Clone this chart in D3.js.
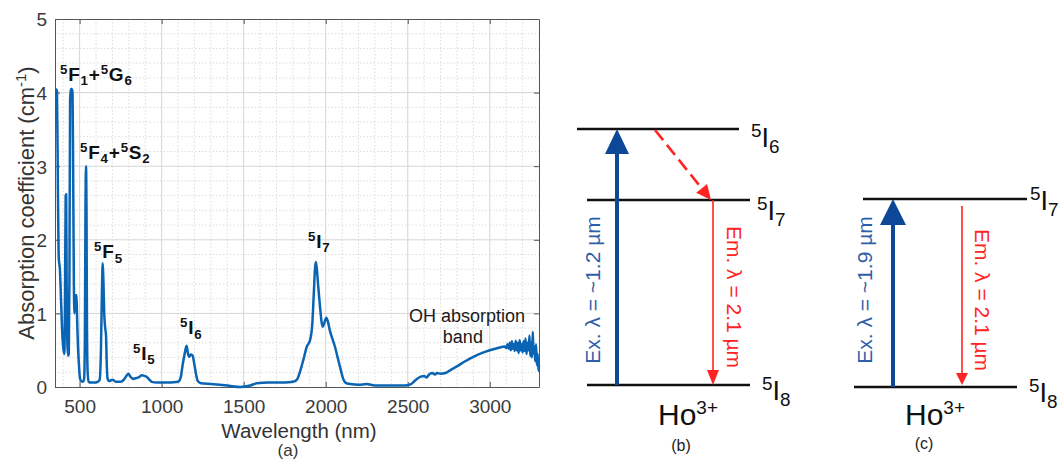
<!DOCTYPE html>
<html><head><meta charset="utf-8">
<script src="https://cdn.jsdelivr.net/npm/d3@7"></script>
<style>body{margin:0;background:#fff;} svg{display:block;font-family:Arial,"Liberation Sans",sans-serif;}</style>
</head><body><svg id="c" width="1063" height="460"></svg>
<script>
// ---------- data ----------
const wavelength = [355,362,368,373,380,388,395,402,407,411,415,418,421,425,430,434,438,442,446,452,457,461,465,469,473,477,481,485,490,496,502,510,520,527,532,536,539,542,545,549,555,570,590,610,622,630,636,641,645,650,656,661,665,670,680,700,720,750,770,785,797,810,825,840,860,880,895,908,925,940,970,1000,1050,1100,1115,1128,1140,1152,1160,1168,1178,1188,1200,1210,1220,1240,1300,1400,1480,1540,1580,1650,1750,1800,1825,1845,1865,1885,1905,1918,1928,1935,1940,1946,1955,1965,1975,1983,1993,2003,2012,2025,2040,2056,2075,2090,2105,2120,2150,2200,2250,2300,2400,2480,2520,2550,2580,2600,2615,2630,2650,2665,2680,2700,2730,2760,2800,2850,2900,2950,3000,3050,3090,3100,3108,3115,3122,3128,3135,3140,3146,3152,3158,3164,3170,3176,3182,3188,3194,3200,3206,3212,3218,3224,3230,3236,3242,3247,3252,3257,3262,3267,3272,3277,3282,3287,3292,3297,3300];
const absorption = [4.05,4.02,2.6,1.75,1.6,1.1,0.7,0.5,0.45,1.2,2.6,2.62,1.4,0.6,0.42,0.45,1.5,3.9,4.05,4.05,4.0,2.8,1.4,1.0,1.25,1.1,1.25,0.9,0.55,0.3,0.12,0.08,0.07,0.1,0.6,2.5,3.0,2.4,0.8,0.2,0.07,0.06,0.06,0.07,0.1,0.5,1.3,1.68,1.45,1.0,0.8,0.7,0.35,0.12,0.08,0.1,0.07,0.07,0.1,0.15,0.18,0.14,0.11,0.12,0.13,0.16,0.15,0.14,0.1,0.07,0.06,0.06,0.06,0.07,0.12,0.3,0.45,0.56,0.46,0.41,0.44,0.43,0.3,0.17,0.08,0.05,0.04,0.02,0.0,0.02,0.05,0.06,0.06,0.07,0.1,0.22,0.38,0.55,0.64,0.85,1.3,1.62,1.7,1.6,1.35,1.1,0.88,0.82,0.88,0.94,0.9,0.77,0.66,0.55,0.38,0.25,0.12,0.06,0.04,0.03,0.04,0.02,0.02,0.02,0.04,0.1,0.14,0.15,0.13,0.17,0.19,0.17,0.19,0.18,0.19,0.23,0.28,0.35,0.41,0.46,0.5,0.53,0.55,0.53,0.58,0.52,0.6,0.5,0.62,0.52,0.58,0.49,0.63,0.5,0.6,0.46,0.64,0.5,0.58,0.47,0.62,0.49,0.66,0.45,0.6,0.5,0.7,0.42,0.6,0.4,0.75,0.45,0.55,0.35,0.58,0.3,0.45,0.22,0.3];
const xTicks = [500,1000,1500,2000,2500,3000];
const yTicks = [0,1,2,3,4,5];
const xLabel = "Wavelength (nm)";
const yLabelMain = "Absorption coefficient (cm";
const yLabelSup = "-1";
const panelA = "(a)";
const bandNames = [
  [["sup","5"],["n","F"],["sub","1"],["n","+"],["sup","5"],["n","G"],["sub","6"]],
  [["sup","5"],["n","F"],["sub","4"],["n","+"],["sup","5"],["n","S"],["sub","2"]],
  [["sup","5"],["n","F"],["sub","5"]],
  [["sup","5"],["n","I"],["sub","5"]],
  [["sup","5"],["n","I"],["sub","6"]],
  [["sup","5"],["n","I"],["sub","7"]]
];
const bandAnchorNm = [380,502,588,825,1112,1892];
const bandAnchorVal = [4.16,3.10,1.75,0.37,0.72,1.89];
const ohText = ["OH absorption","band"];

// ---------- layout ----------
const svg = d3.select("#c");
const L = 55, R = 539, T = 19, B = 387;
const x = d3.scaleLinear().domain([350,3300]).range([L,R]);
const y = d3.scaleLinear().domain([0,5]).range([B,T]);

function rich(g, parts, px, py, size, attrs){
  const t = g.append("text").attr("x",px).attr("y",py).style("font-size",size+"px");
  for (const k in attrs) t.attr(k, attrs[k]);
  let cur = 0;
  parts.forEach(([kind, s])=>{
    const shift = kind==="sup" ? -0.38*size : kind==="sub" ? 0.24*size : 0;
    t.append("tspan").attr("dy", shift-cur).style("font-size",(kind==="n"?size:size*0.7)+"px").text(s);
    cur = shift;
  });
  return t;
}

// grid
const grid = svg.append("g");
const minorX = d3.range(400,3300,100).filter(v=>v%500!==0);
const minorY = d3.range(0.2,5,0.2).filter(v=>Math.abs(v-Math.round(v))>1e-6);
grid.selectAll(".mx").data(minorX).join("line").attr("x1",d=>x(d)).attr("x2",d=>x(d)).attr("y1",T).attr("y2",B)
  .attr("stroke","#dcdcdc").attr("stroke-width",1).attr("stroke-dasharray","1.5,2");
grid.selectAll(".my").data(minorY).join("line").attr("y1",d=>y(d)).attr("y2",d=>y(d)).attr("x1",L).attr("x2",R)
  .attr("stroke","#dcdcdc").attr("stroke-width",1).attr("stroke-dasharray","1.5,2");
grid.selectAll(".Mx").data(xTicks).join("line").attr("x1",d=>x(d)).attr("x2",d=>x(d)).attr("y1",T).attr("y2",B)
  .attr("stroke","#d6d6d6").attr("stroke-width",1);
grid.selectAll(".My").data(yTicks.slice(1,-1)).join("line").attr("y1",d=>y(d)).attr("y2",d=>y(d)).attr("x1",L).attr("x2",R)
  .attr("stroke","#d6d6d6").attr("stroke-width",1);

// axes
const axColor = "#555";
const fmt = d3.format("d");
const axB = svg.append("g").attr("transform",`translate(0,${B})`).call(d3.axisBottom(x).tickValues(xTicks).tickFormat(fmt).tickSizeInner(-5).tickSizeOuter(0).tickPadding(8));
const axT = svg.append("g").attr("transform",`translate(0,${T})`).call(d3.axisTop(x).tickValues(xTicks).tickSizeInner(-5).tickSizeOuter(0).tickFormat(""));
const axL = svg.append("g").attr("transform",`translate(${L},0)`).call(d3.axisLeft(y).tickValues(yTicks).tickFormat(fmt).tickSizeInner(-5).tickSizeOuter(0).tickPadding(8));
const axR = svg.append("g").attr("transform",`translate(${R},0)`).call(d3.axisRight(y).tickValues(yTicks).tickSizeInner(-5).tickSizeOuter(0).tickFormat(""));
[axB,axT,axL,axR].forEach(a=>{
  a.select(".domain").attr("stroke",axColor);
  a.selectAll(".tick line").attr("stroke",axColor);
  a.selectAll("text").attr("fill","#3a3a3a").style("font-size","19px").style("font-family","Arial,'Liberation Sans',sans-serif");
});
axB.selectAll("text").attr("dy","0.95em");
axL.selectAll("text").attr("dy","0.36em");

// spectrum
const pts = wavelength.map((w,i)=>[w,absorption[i]]);
svg.append("path").datum(pts)
  .attr("d", d3.line().x(d=>x(d[0])).y(d=>y(d[1])).curve(d3.curveMonotoneX))
  .attr("fill","none").attr("stroke","#0a64b4").attr("stroke-width",2.5).attr("stroke-linejoin","round");

// band labels
bandNames.forEach((parts,i)=>{
  rich(svg, parts, x(bandAnchorNm[i]), y(bandAnchorVal[i]), 19, {"font-weight":"bold","fill":"#111","letter-spacing":"0.8px"});
});
svg.append("text").attr("x",x(2507)).attr("y",y(0.88)).style("font-size","18px").attr("fill","#1a1a1a").text(ohText[0]);
svg.append("text").attr("x",x(2836)).attr("y",y(0.60)).attr("text-anchor","middle").style("font-size","18px").attr("fill","#1a1a1a").text(ohText[1]);

// axis labels
svg.append("text").attr("x",(L+R)/2+2).attr("y",438).attr("text-anchor","middle").style("font-size","20.5px").attr("fill","#333").text(xLabel);
svg.append("text").attr("x",288).attr("y",456).attr("text-anchor","middle").style("font-size","17px").attr("fill","#333").text(panelA);
const yl = svg.append("text").attr("transform","translate(34,203) rotate(-90)").attr("text-anchor","middle").style("font-size","22px").attr("fill","#333");
yl.append("tspan").text(yLabelMain);
yl.append("tspan").attr("dy",-8).style("font-size","15px").text(yLabelSup);
yl.append("tspan").attr("dy",8).text(")");

// ---------- energy level diagrams ----------
const blueArrow = "#0d4798", blueText = "#2f5ea9", red = "#ff2424";
function level(x1,x2,yy){ svg.append("line").attr("x1",x1).attr("x2",x2).attr("y1",yy).attr("y2",yy).attr("stroke","#111").attr("stroke-width",2.6); }
function levelLabel(px,py,sub){ rich(svg,[["sup","5"],["n","I"],["sub",sub]],px,py,27,{"fill":"#111"}); }
function upArrow(px,y0,tip,hw,hl){
  svg.append("line").attr("x1",px).attr("x2",px).attr("y1",y0).attr("y2",tip+hl-1).attr("stroke",blueArrow).attr("stroke-width",4);
  svg.append("path").attr("d",`M${px},${tip}L${px-hw},${tip+hl}L${px+hw},${tip+hl}Z`).attr("fill",blueArrow);
}
function downArrow(px,y0,tip,hw,hl){
  svg.append("line").attr("x1",px).attr("x2",px).attr("y1",y0).attr("y2",tip-hl+1).attr("stroke",red).attr("stroke-width",1.6);
  svg.append("path").attr("d",`M${px},${tip}L${px-hw},${tip-hl}L${px+hw},${tip-hl}Z`).attr("fill",red);
}
function vtext(px,py,rot,str,col){
  svg.append("text").attr("transform",`translate(${px},${py}) rotate(${rot})`).attr("text-anchor","middle").attr("dy","0.35em")
    .style("font-size","21px").attr("fill",col).text(str);
}
const exB = "Ex. \u03bb = ~1.2 \u00b5m", exC = "Ex. \u03bb = ~1.9 \u00b5m", em = "Em. \u03bb = 2.1 \u00b5m";

// panel b
level(577,739,129); level(587,750,200); level(587,750,385);
levelLabel(751,147,"6"); levelLabel(757,220,"7"); levelLabel(762,400,"8");
upArrow(617,385,129,12,25);
vtext(593,290,-90,exB,blueText);
(function(){
  const x0=655,y0=130,x1=711,y1=200;
  const ang=Math.atan2(y1-y0,x1-x0), hl=15, hw=7;
  const bx=x1-hl*Math.cos(ang), by=y1-hl*Math.sin(ang);
  svg.append("line").attr("x1",x0).attr("y1",y0).attr("x2",bx).attr("y2",by).attr("stroke",red).attr("stroke-width",2.6).attr("stroke-dasharray","13,6");
  const px=-Math.sin(ang), py=Math.cos(ang);
  svg.append("path").attr("d",`M${x1},${y1}L${bx+px*hw},${by+py*hw}L${bx-px*hw},${by-py*hw}Z`).attr("fill",red);
})();
downArrow(713,200,385,6,15);
vtext(734,297,90,em,red);
svg.append("text").attr("x",688).attr("y",425).attr("text-anchor","middle").style("font-size","30px").attr("fill","#111")
  .call(t=>{t.append("tspan").text("Ho"); t.append("tspan").attr("dy",-11).style("font-size","19px").text("3+");});
svg.append("text").attr("x",681).attr("y",451).attr("text-anchor","middle").style("font-size","16px").attr("fill","#222").text("(b)");

// panel c
level(863,1027,199); level(854,1017,387);
levelLabel(1030,210,"7"); levelLabel(1029,402,"8");
upArrow(893,387,199,13,26);
vtext(865,290,-90,exC,blueText);
downArrow(962,206,385,6,12);
vtext(982,300,90,em,red);
svg.append("text").attr("x",935).attr("y",425).attr("text-anchor","middle").style("font-size","30px").attr("fill","#111")
  .call(t=>{t.append("tspan").text("Ho"); t.append("tspan").attr("dy",-11).style("font-size","19px").text("3+");});
svg.append("text").attr("x",924).attr("y",449).attr("text-anchor","middle").style("font-size","16px").attr("fill","#222").text("(c)");
</script></body></html>
